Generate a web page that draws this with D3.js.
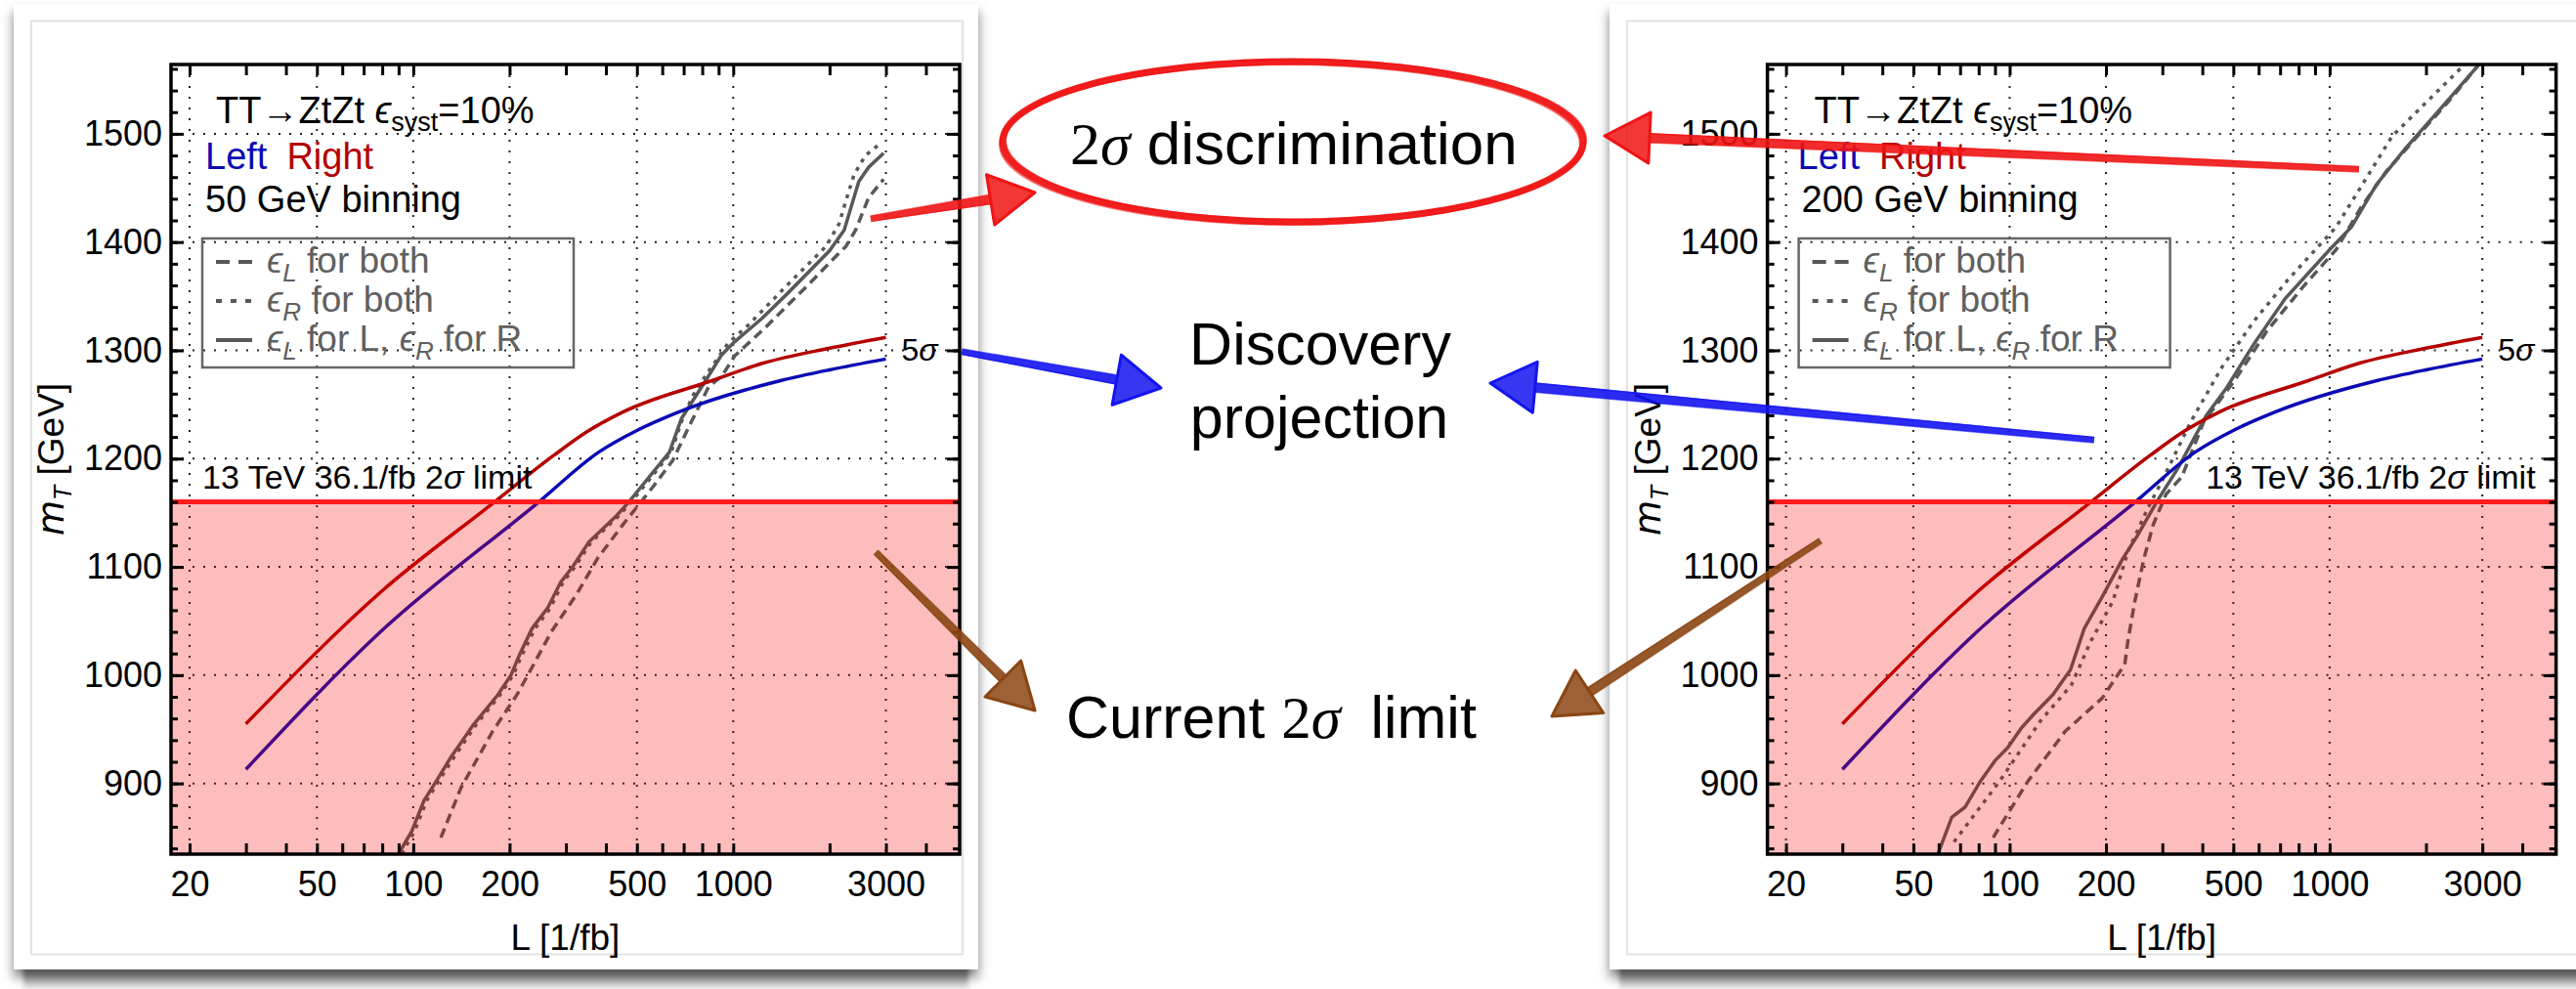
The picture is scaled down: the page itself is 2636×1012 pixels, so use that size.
<!DOCTYPE html>
<html>
<head>
<meta charset="utf-8">
<script src="https://cdn.jsdelivr.net/npm/d3@7"></script>
<style>
  body { margin: 0; background: #fff; }
  svg { display: block; font-family: "Liberation Sans", Arial, sans-serif; }
</style>
</head>
<body>
<div id="chart-area"></div>
<script>

    // ---- data ----
    var lumiLabels = [20, 50, 100, 200, 500, 1000, 3000];
    var lumiMinor = [20, 30, 40, 50, 60, 70, 80, 90, 100, 200, 300, 400, 500, 600, 700, 800, 900, 1000, 2000, 3000, 4000];
    var massLabels = [900, 1000, 1100, 1200, 1300, 1400, 1500];
    var massMinor = d3.range(840, 1561, 20);
    var limitMass = 1160;

    // 5 sigma discovery reach, same in both panels [L, mT]
    var discoveryRight = [[30, 955], [80, 1078], [176, 1158], [275, 1203], [350, 1225], [452, 1243], [858, 1272], [1235, 1288], [2000, 1302], [3000, 1312]];
    var discoveryLeft = [[30, 913], [79, 1040], [247, 1160], [380, 1206], [500, 1226], [675, 1243], [1405, 1272], [2000, 1282], [3000, 1292]];

    // 2 sigma L/R discrimination, 50 GeV binning
    var solid50 = [[90, 835], [99, 856], [108, 884], [118, 902], [131, 924], [154, 954], [184, 982], [202, 1000], [215, 1019], [235, 1043], [263, 1062], [289, 1086], [315, 1100], [354, 1123], [431, 1147], [472, 1160], [539, 1181], [632, 1206], [689, 1237], [828, 1274], [921, 1296], [1011, 1308], [1235, 1330], [1472, 1352], [2000, 1392], [2222, 1411], [2468, 1456], [2649, 1469], [2950, 1482]];
    var dashed50 = [[122, 850], [141, 896], [177, 948], [211, 982], [241, 1013], [270, 1040], [323, 1074], [377, 1108], [452, 1139], [565, 1175], [646, 1198], [740, 1234], [840, 1267], [921, 1276], [1011, 1295], [1250, 1320], [1736, 1362], [2047, 1384], [2249, 1396], [2412, 1411], [2649, 1441], [2950, 1458]];
    var dotted50 = [[92, 835], [101, 856], [110, 884], [120, 902], [134, 924], [157, 954], [187, 982], [205, 1000], [219, 1019], [240, 1043], [268, 1062], [294, 1086], [320, 1100], [360, 1123], [438, 1147], [480, 1160], [548, 1181], [640, 1206], [700, 1240], [760, 1262], [839, 1281], [966, 1307], [1112, 1323], [1472, 1360], [1950, 1396], [2143, 1417], [2249, 1438], [2384, 1462], [2588, 1480], [2850, 1490]];

    // 2 sigma L/R discrimination, 200 GeV binning
    var solid200 = [[59.7, 835], [66, 869], [72.5, 878], [81, 902], [90, 921], [98.6, 933], [108.7, 951], [119, 964], [136.5, 982], [155, 1005], [171, 1043], [196, 1074], [225, 1107], [251, 1129], [288, 1160], [337, 1192], [412, 1240], [473, 1264], [580, 1306], [727, 1348], [1000, 1393], [1170, 1414], [1400, 1453], [1720, 1486], [2250, 1525], [2890, 1562], [3000, 1568]];
    var dashed200 = [[88.8, 850], [114, 902], [149, 948], [195, 979], [229, 1010], [234, 1031], [246, 1068], [263, 1108], [281, 1139], [308, 1167], [345, 1183], [404, 1234], [507, 1273], [637, 1318], [833, 1360], [1048, 1393], [1253, 1432], [1500, 1465], [1885, 1498], [2420, 1534], [3000, 1568]];
    var dotted200 = [[67, 846], [93, 902], [125, 958], [156, 991], [179, 1031], [210, 1068], [234, 1114], [270, 1154], [300, 1180], [368, 1234], [462, 1285], [580, 1327], [740, 1365], [1048, 1414], [1570, 1498], [2660, 1565]];

    var panels = [
      { left: 175, binning: '50 GeV binning', solid: solid50, dashed: dashed50, dotted: dotted50, limitSide: 'start' },
      { left: 1808.6, binning: '200 GeV binning', solid: solid200, dashed: dashed200, dotted: dotted200, limitSide: 'end' }
    ];

    var plotTop = 66;
    var width = 807;
    var height = 808;
    var grey = '#585858';

    var svg = d3.select('#chart-area')
      .append('svg')
      .attr('width', 2636)
      .attr('height', 1012);

    var defs = svg.append('defs');
    var shadow = defs.append('filter').attr('id', 'cardShadow')
      .attr('x', '-5%').attr('y', '-5%').attr('width', '110%').attr('height', '115%');
    shadow.append('feDropShadow')
      .attr('dx', 0).attr('dy', 8).attr('stdDeviation', 6)
      .attr('flood-color', '#000').attr('flood-opacity', 0.5);

    var band = defs.append('linearGradient').attr('id', 'bandGrad')
      .attr('x1', 0).attr('y1', 0).attr('x2', 0).attr('y2', 1);
    band.append('stop').attr('offset', 0).attr('stop-color', '#8c8c8c');
    band.append('stop').attr('offset', 0.5).attr('stop-color', '#b4b4b4');
    band.append('stop').attr('offset', 1).attr('stop-color', '#ececec');
    var blurBand = defs.append('filter').attr('id', 'bandBlur')
      .attr('x', '-2%').attr('y', '-50%').attr('width', '104%').attr('height', '200%');
    blurBand.append('feGaussianBlur').attr('stdDeviation', 2);

    // cards
    [{ x: 14, w: 987 }, { x: 1647, w: 1010 }].forEach((c) => {
      svg.append('rect').attr('x', c.x + 10).attr('y', 990).attr('width', c.w - 20).attr('height', 22)
        .attr('fill', 'url(#bandGrad)').attr('filter', 'url(#bandBlur)');
      svg.append('rect').attr('x', c.x).attr('y', 4).attr('width', c.w).attr('height', 988)
        .attr('fill', '#fff').attr('filter', 'url(#cardShadow)');
      svg.append('rect').attr('x', c.x + 18).attr('y', 21.5).attr('width', c.w - 34).attr('height', 955)
        .attr('fill', 'none').attr('stroke', '#e2e2e2').attr('stroke-width', 2);
    });

    panels.forEach((p, i) => {
      var g = svg.append('g').attr('transform', `translate(${p.left},${plotTop})`);

      var xScale = d3.scaleLog().domain([17.5, 5100]).range([0, width]);
      var yScale = d3.scaleLinear().domain([834.7, 1564]).range([height, 0]);

      defs.append('clipPath').attr('id', 'clip' + i)
        .append('rect').attr('width', width).attr('height', height);

      var inner = g.append('g').attr('clip-path', `url(#clip${i})`);

      // dotted grid
      inner.selectAll('.vgrid').data(lumiLabels).enter().append('line')
        .attr('x1', (d) => xScale(d)).attr('x2', (d) => xScale(d))
        .attr('y1', 0).attr('y2', height)
        .attr('stroke', '#222').attr('stroke-width', 2).attr('stroke-dasharray', '2 9');
      inner.selectAll('.hgrid').data(massLabels).enter().append('line')
        .attr('y1', (d) => yScale(d)).attr('y2', (d) => yScale(d))
        .attr('x1', 0).attr('x2', width)
        .attr('stroke', '#222').attr('stroke-width', 2).attr('stroke-dasharray', '2 9');

      var line = d3.line().x((d) => xScale(d[0])).y((d) => yScale(d[1]));
      var smooth = d3.line().curve(d3.curveMonotoneX).x((d) => xScale(d[0])).y((d) => yScale(d[1]));

      inner.append('path').attr('d', line(p.dotted)).attr('fill', 'none')
        .attr('stroke', grey).attr('stroke-width', 3.5).attr('stroke-dasharray', '4 6');
      inner.append('path').attr('d', line(p.dashed)).attr('fill', 'none')
        .attr('stroke', grey).attr('stroke-width', 3.5).attr('stroke-dasharray', '10 6');
      inner.append('path').attr('d', line(p.solid)).attr('fill', 'none')
        .attr('stroke', grey).attr('stroke-width', 3.5);

      inner.append('path').attr('d', smooth(discoveryRight)).attr('fill', 'none')
        .attr('stroke', '#b40000').attr('stroke-width', 3.5);
      inner.append('path').attr('d', smooth(discoveryLeft)).attr('fill', 'none')
        .attr('stroke', '#0a0ab4').attr('stroke-width', 3.5);

      // excluded region
      inner.append('rect')
        .attr('x', 0).attr('y', yScale(limitMass))
        .attr('width', width).attr('height', height - yScale(limitMass))
        .attr('fill', 'rgb(250,0,0)').attr('fill-opacity', 0.26);
      inner.append('line')
        .attr('x1', 0).attr('x2', width)
        .attr('y1', yScale(limitMass)).attr('y2', yScale(limitMass))
        .attr('stroke', '#ff1c1c').attr('stroke-width', 5);

      // frame ticks
      var styleAxis = (sel) => {
        sel.select('.domain').remove();
        sel.selectAll('line').attr('stroke', '#000').attr('stroke-width', 3);
        sel.selectAll('text').attr('font-size', 36).attr('font-family', '"Liberation Sans", Arial, sans-serif').attr('fill', '#000');
      };
      g.append('g').attr('transform', `translate(0,${height})`)
        .call(d3.axisBottom(xScale).tickValues(lumiMinor).tickSize(-11).tickPadding(17)
          .tickFormat((d) => lumiLabels.includes(d) ? d : ''))
        .call(styleAxis);
      g.append('g')
        .call(d3.axisTop(xScale).tickValues(lumiMinor).tickSize(-11).tickFormat(''))
        .call(styleAxis);
      g.append('g')
        .call(d3.axisLeft(yScale).tickValues(massMinor).tickSize(-7).tickFormat(''))
        .call(styleAxis);
      g.append('g')
        .call(d3.axisLeft(yScale).tickValues(massLabels).tickSize(-13).tickPadding(9).tickFormat(d3.format('d')))
        .call(styleAxis);
      g.append('g').attr('transform', `translate(${width},0)`)
        .call(d3.axisRight(yScale).tickValues(massMinor).tickSize(-7).tickFormat(''))
        .call(styleAxis);
      g.append('g').attr('transform', `translate(${width},0)`)
        .call(d3.axisRight(yScale).tickValues(massLabels).tickSize(-13).tickFormat(''))
        .call(styleAxis);

      g.append('rect').attr('width', width).attr('height', height)
        .attr('fill', 'none').attr('stroke', '#000').attr('stroke-width', 3.5);

      // axis titles
      g.append('text')
        .attr('x', width / 2).attr('y', height + 98)
        .attr('text-anchor', 'middle').attr('font-size', 37)
        .text('L [1/fb]');
      var yl = g.append('text')
        .attr('transform', `translate(-110,${height / 2}) rotate(-90)`)
        .attr('text-anchor', 'middle').attr('font-size', 37);
      yl.append('tspan').attr('font-style', 'italic').attr('font-family', '"DejaVu Sans", sans-serif').text('m');
      yl.append('tspan').attr('font-style', 'italic').attr('font-size', 25).attr('dy', 8).text('T');
      yl.append('tspan').attr('dy', -8).text('  [GeV]');

      // header text
      var h1 = g.append('text').attr('x', i === 0 ? 46 : 48).attr('y', 60).attr('font-size', 38);
      h1.append('tspan').text('TT\u2192ZtZt ');
      h1.append('tspan').attr('font-style', 'italic').text('\u03f5');
      h1.append('tspan').attr('font-size', 27).attr('dy', 8).text('syst');
      h1.append('tspan').attr('dy', -8).text('=10%');

      var h2 = g.append('text').attr('x', i === 0 ? 35 : 31).attr('y', 107).attr('font-size', 38);
      h2.append('tspan').attr('fill', '#0a0ab4').text('Left');
      h2.append('tspan').attr('fill', '#b40000').attr('dx', 20).text('Right');

      g.append('text').attr('x', 35).attr('y', 151).attr('font-size', 38).text(p.binning);

      // legend
      var legend = g.append('g').attr('transform', 'translate(32,178)');
      legend.append('rect').attr('width', 380).attr('height', 132)
        .attr('fill', 'none').attr('stroke', '#666').attr('stroke-width', 2.5);
      var rows = [
        { dash: '14 9', sub: 'L', rest: ' for both' },
        { dash: '6 9', sub: 'R', rest: ' for both' },
        { dash: null, sub: 'L', rest: ' for L, ', sub2: 'R', rest2: ' for R' }
      ];
      rows.forEach((r, k) => {
        var row = legend.append('g').attr('transform', `translate(0,${35 + k * 40})`);
        row.append('line').attr('x1', 14).attr('x2', 51).attr('y1', -11).attr('y2', -11)
          .attr('stroke', grey).attr('stroke-width', 4)
          .attr('stroke-dasharray', r.dash);
        var t = row.append('text').attr('x', 66).attr('font-size', 37).attr('fill', '#606060');
        t.append('tspan').attr('font-style', 'italic').text('\u03f5');
        t.append('tspan').attr('font-style', 'italic').attr('font-size', 26).attr('dy', 9).text(r.sub);
        t.append('tspan').attr('dy', -9).text(r.rest);
        if (r.sub2) {
          t.append('tspan').attr('font-style', 'italic').text('\u03f5');
          t.append('tspan').attr('font-style', 'italic').attr('font-size', 26).attr('dy', 9).text(r.sub2);
          t.append('tspan').attr('dy', -9).text(r.rest2);
        }
      });

      // limit label and 5 sigma tag
      var lim = g.append('text')
        .attr('x', p.limitSide === 'start' ? 32 : width - 21)
        .attr('y', yScale(limitMass) - 14)
        .attr('text-anchor', p.limitSide).attr('font-size', 34);
      lim.append('tspan').text('13 TeV 36.1/fb 2');
      lim.append('tspan').attr('font-style', 'italic').text('\u03c3');
      lim.append('tspan').text(' limit');

      var five = g.append('text')
        .attr('x', xScale(3000) + 16).attr('y', yScale(1300) + 11)
        .attr('font-size', 32);
      five.append('tspan').text('5');
      five.append('tspan').attr('font-style', 'italic').text('\u03c3');
    });

    // ---- hand drawn annotations between the panels ----
    var annot = svg.append('g');

    function sketchArrow(x1, y1, x2, y2, color) {
      var dx = x2 - x1, dy = y2 - y1;
      var len = Math.hypot(dx, dy);
      var ux = dx / len, uy = dy / len, nx = -uy, ny = ux;
      var headLen = 46, headW = 26;
      var bx = x2 - ux * headLen, by = y2 - uy * headLen;
      var shaft = d3.path();
      shaft.moveTo(x1 + nx * 3, y1 + ny * 3);
      shaft.lineTo(bx + nx * 5, by + ny * 5);
      shaft.lineTo(bx - nx * 5, by - ny * 5);
      shaft.lineTo(x1 - nx * 3, y1 - ny * 3);
      shaft.closePath();
      annot.append('path').attr('d', shaft.toString()).attr('fill', color).attr('opacity', 0.9);
      [-5, 4].forEach((o) => {
        annot.append('line')
          .attr('x1', x1 + nx * o * 0.6).attr('y1', y1 + ny * o * 0.6)
          .attr('x2', bx + nx * o).attr('y2', by + ny * o)
          .attr('stroke', color).attr('stroke-width', 1.5).attr('opacity', 0.6);
      });
      var head = d3.path();
      head.moveTo(x2, y2);
      head.lineTo(bx + nx * headW, by + ny * headW);
      head.lineTo(bx - nx * headW, by - ny * headW);
      head.closePath();
      annot.append('path').attr('d', head.toString())
        .attr('fill', color).attr('fill-opacity', 0.85)
        .attr('stroke', color).attr('stroke-width', 3).attr('stroke-linejoin', 'round');
    }

    // ellipse around 2 sigma discrimination
    [[0, 0, 7], [3, -2, 2], [-3, 3, 2]].forEach((e) => {
      annot.append('ellipse')
        .attr('cx', 1323 + e[0]).attr('cy', 145 + e[1])
        .attr('rx', 297).attr('ry', 82)
        .attr('fill', 'none').attr('stroke', '#f01414').attr('stroke-width', e[2])
        .attr('opacity', e[2] > 3 ? 0.95 : 0.6);
    });

    sketchArrow(891, 224, 1059, 197, '#f01414');
    sketchArrow(2414, 173, 1642, 139, '#f01414');
    sketchArrow(984, 360, 1188, 397, '#1414f0');
    sketchArrow(2143, 450, 1525, 392, '#1414f0');
    sketchArrow(896, 565, 1059, 727, '#8b4513');
    sketchArrow(1863, 553, 1588, 733, '#8b4513');

    var serif = '"Liberation Serif", "DejaVu Serif", serif';

    var t1 = annot.append('text').attr('x', 1095).attr('y', 168).attr('font-size', 62);
    t1.append('tspan').attr('font-family', serif).text('2');
    t1.append('tspan').attr('font-family', serif).attr('font-style', 'italic').text('\u03c3');
    t1.append('tspan').text(' discrimination');

    annot.append('text').attr('x', 1351).attr('y', 373).attr('font-size', 61)
      .attr('text-anchor', 'middle').text('Discovery');
    annot.append('text').attr('x', 1350).attr('y', 448).attr('font-size', 61)
      .attr('text-anchor', 'middle').text('projection');

    var t3 = annot.append('text').attr('x', 1091).attr('y', 755).attr('font-size', 61);
    t3.append('tspan').text('Current ');
    t3.append('tspan').attr('font-family', serif).text('2');
    t3.append('tspan').attr('font-family', serif).attr('font-style', 'italic').text('\u03c3');
    t3.append('tspan').text('\u2002limit');

</script>
</body>
</html>
